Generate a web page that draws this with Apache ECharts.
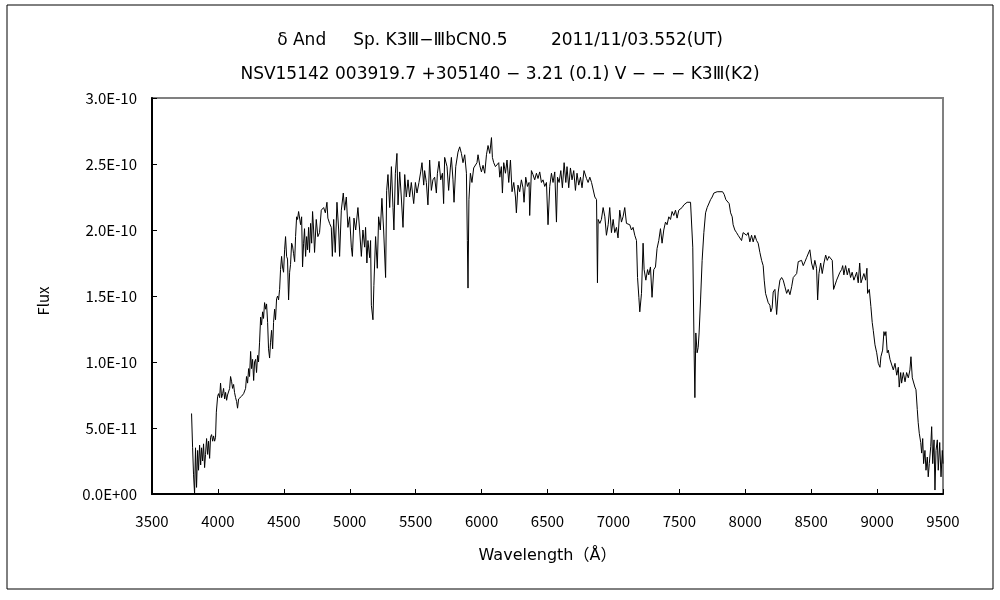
<!DOCTYPE html>
<html>
<head>
<meta charset="utf-8">
<script src="https://cdn.jsdelivr.net/npm/echarts@6/dist/echarts.min.js"></script>
<style>html,body{margin:0;padding:0;background:#fff}#chart{width:1000px;height:600px}</style>
</head>
<body>
<div id="chart"></div>
<script>
// Title texts
const titleLine1 = 'δ And     Sp. K3Ⅲ−ⅢbCN0.5        2011/11/03.552(UT)';
const titleLine2 = 'NSV15142 003919.7 +305140 − 3.21 (0.1) V − − − K3Ⅲ(K2)';
const xAxisName = 'Wavelength（Å）';
const yAxisName = 'Flux';

// Axis ticks
const xTicks = [3500, 4000, 4500, 5000, 5500, 6000, 6500, 7000, 7500, 8000, 8500, 9000, 9500];
const yTickLabels = ['0.0E+00', '5.0E-11', '1.0E-10', '1.5E-10', '2.0E-10', '2.5E-10', '3.0E-10'];

// Flux values are in units of 1e-10, pairs of [wavelength(A), flux]
const FLUX_UNIT = 1e-10;

const blueSegment = [
  [3800,0.61],[3808,0.35],[3815,0.15],[3823,0.00],[3830,0.35],[3838,0.05],[3846,0.33],[3853,0.18],
  [3861,0.37],[3869,0.22],[3876,0.35],[3884,0.25],[3891,0.38],[3899,0.20],[3906,0.30],[3914,0.42],
  [3922,0.30],[3929,0.40],[3937,0.27],[3944,0.43],[3952,0.45],[3960,0.40],[3967,0.44],[3975,0.40],
  [3982,0.43],[3988,0.62],[3998,0.74],[4005,0.76],[4013,0.73],[4020,0.84],[4028,0.73],[4036,0.76],
  [4043,0.80],[4051,0.72],[4058,0.77],[4066,0.71],[4073,0.75],[4081,0.74],[4089,0.80],[4096,0.89],
  [4104,0.85],[4111,0.80],[4119,0.83],[4126,0.77],[4134,0.73],[4142,0.70],[4149,0.65],[4157,0.72],
  [4164,0.73],[4172,0.71],[4179,0.74],[4187,0.73],[4195,0.76],[4202,0.75],[4210,0.80],[4217,0.89],
  [4225,0.84],[4233,0.95],[4240,0.89],[4248,1.08],[4255,0.95],[4263,1.02],[4271,0.86],[4278,1.00],
  [4286,1.02],[4293,0.92],[4301,1.05],[4308,1.00],[4316,1.15],[4324,1.34],[4331,1.28],[4339,1.38],
  [4346,1.33],[4354,1.45],[4362,1.40],[4369,1.44],[4377,1.30],[4384,1.10],[4392,1.03],[4399,1.15],
  [4407,1.24],[4415,1.10],[4422,1.30],[4430,1.40],[4437,1.32],[4445,1.48],[4453,1.50],[4460,1.47],
  [4468,1.55],[4475,1.70],[4483,1.80],[4490,1.72],[4498,1.68],[4506,1.85],[4513,1.95],[4521,1.80],
  [4528,1.78],[4536,1.47],[4544,1.68],[4551,1.74],[4559,1.90],[4566,1.88],[4574,1.82],[4582,1.76],
  [4589,1.95],[4597,2.10],[4604,2.08],[4612,2.14],[4619,2.13],[4627,2.04],[4635,2.10],[4642,1.72],
  [4650,1.90],[4657,2.01],[4665,1.80],[4673,1.95],[4680,1.85],[4688,2.02],[4695,1.83],[4703,2.05],
  [4711,1.90],[4718,2.14],[4726,2.00]
];

const greenSegment = [
  [4733,1.83],[4746,2.08],[4758,1.95],[4771,1.98],[4784,2.15],[4802,2.17],[4815,2.13],[4827,2.21],
  [4834,2.09],[4847,2.05],[4860,2.02],[4868,1.80],[4878,2.08],[4890,1.83],[4903,2.21],[4916,2.00],
  [4923,1.80],[4936,2.15],[4951,2.28],[4961,2.15],[4974,2.25],[4986,2.02],[4999,2.10],[5012,1.87],
  [5020,1.80],[5032,2.09],[5045,2.00],[5062,2.17],[5075,2.00],[5088,1.80],[5100,2.00],[5113,1.87],
  [5120,2.02],[5130,1.75],[5138,1.92],[5151,1.79],[5158,1.92],[5164,1.43],[5176,1.32],[5183,1.58],
  [5196,1.95],[5209,1.71],[5219,2.10],[5232,2.00],[5244,2.24],[5257,2.00],[5272,1.64],[5280,2.30],
  [5290,2.42],[5303,2.17],[5316,2.48],[5328,2.17],[5335,2.00],[5346,2.43],[5358,2.58],[5366,2.19],
  [5379,2.44],[5391,2.25],[5404,2.02],[5417,2.42],[5429,2.25],[5442,2.38],[5454,2.25],[5467,2.36],
  [5485,2.20],[5498,2.36],[5510,2.28],[5525,2.36],[5538,2.44],[5548,2.51],[5561,2.34],[5568,2.45],
  [5581,2.36],[5593,2.19],[5606,2.53],[5619,2.30],[5631,2.38],[5644,2.40],[5657,2.28],[5665,2.43],
  [5677,2.52],[5690,2.38],[5703,2.43],[5712,2.20],[5720,2.55],[5738,2.48],[5750,2.30],[5763,2.47]
];

const yellowSegment = [
  [5771,2.55],[5783,2.38],[5791,2.21],[5804,2.48],[5821,2.59],[5834,2.63],[5847,2.58],[5859,2.51],
  [5872,2.57],[5885,2.43],[5892,1.92],[5897,1.56],[5904,2.23],[5915,2.43],[5927,2.36],[5940,2.47],
  [5955,2.48],[5965,2.51],[5973,2.57],[5986,2.49],[5999,2.44],[6011,2.49],[6024,2.43],[6037,2.57],
  [6049,2.64],[6062,2.58],[6075,2.70],[6082,2.55],[6092,2.51],[6105,2.48],[6117,2.47],[6130,2.51],
  [6138,2.40],[6150,2.48],[6158,2.28],[6168,2.51],[6181,2.43],[6193,2.53],[6206,2.36],[6219,2.53],
  [6231,2.29],[6244,2.36],[6257,2.25],[6264,2.13],[6276,2.34],[6289,2.29],[6302,2.38],[6314,2.32],
  [6322,2.21],[6335,2.40],[6348,2.33],[6360,2.36],[6365,2.11],[6378,2.45],[6390,2.42],[6403,2.38],
  [6416,2.43],[6428,2.39],[6441,2.44],[6454,2.36],[6466,2.38],[6479,2.33],[6492,2.36],[6504,2.04],
  [6517,2.33],[6530,2.43],[6542,2.36],[6555,2.44],[6568,2.06],[6576,2.40],[6588,2.36],[6601,2.45],
  [6613,2.32],[6626,2.51],[6639,2.36],[6648,2.48],[6661,2.32],[6674,2.47],[6686,2.38],[6699,2.45],
  [6712,2.30],[6724,2.43],[6737,2.34],[6750,2.40],[6762,2.32],[6777,2.45]
];

const redSegment = [
  [6796,2.39],[6808,2.36],[6821,2.40],[6834,2.36],[6846,2.35],[6859,2.25],[6872,2.23],[6879,1.60],
  [6884,2.08],[6897,2.05],[6909,2.08],[6922,2.17],[6935,2.10],[6947,1.96],[6960,2.04],[6972,2.17],
  [6985,1.98],[6998,2.08],[7010,1.98],[7023,2.02],[7035,1.94],[7048,2.15],[7061,2.06],[7073,2.10],
  [7086,2.17],[7099,2.05],[7111,2.04],[7124,2.04],[7137,2.00],[7149,2.02],[7162,1.96],[7175,1.92],
  [7183,1.64],[7193,1.49],[7200,1.38],[7213,1.52],[7225,1.90],[7233,1.70],[7246,1.62],[7259,1.70],
  [7268,1.66],[7281,1.72],[7293,1.49],[7306,1.70],[7319,1.72],[7331,1.86],[7344,1.92],[7357,2.01],
  [7369,1.90],[7382,2.00],[7395,2.06],[7407,2.04],[7420,2.10],[7433,2.08],[7445,2.14],[7458,2.11],
  [7471,2.15],[7483,2.09],[7496,2.15],[7509,2.15],[7521,2.17],[7534,2.19],[7547,2.20],[7559,2.21],
  [7572,2.20],[7585,2.21],[7597,2.20],[7602,1.87],[7612,1.09],[7618,0.73],[7625,1.22],[7635,1.07],
  [7643,1.11],[7650,1.22],[7661,1.47],[7673,1.77],[7686,1.98],[7699,2.13],[7711,2.17],[7724,2.17],
  [7737,2.23],[7749,2.25],[7762,2.28],[7775,2.27],[7787,2.29],[7800,2.28]
];

const nirSegment = [
  [7828,2.29],[7840,2.27],[7853,2.23],[7866,2.24],[7878,2.20],[7889,2.13],[7901,2.10],[7908,2.04],
  [7921,2.00],[7934,1.98],[7946,1.96],[7959,1.96],[7972,1.92],[7984,1.98],[7997,1.98],[8010,1.96],
  [8022,1.98],[8035,1.91],[8048,1.96],[8060,1.91],[8073,1.96],[8086,1.92],[8098,1.90],[8111,1.83],
  [8124,1.77],[8136,1.73],[8144,1.62],[8154,1.52],[8166,1.51],[8174,1.45],[8187,1.43],[8194,1.38],
  [8204,1.41],[8212,1.53],[8225,1.55],[8238,1.36],[8250,1.53],[8263,1.62],[8276,1.64],[8288,1.62],
  [8301,1.57],[8314,1.52],[8326,1.55],[8339,1.51],[8352,1.57],[8364,1.64],[8377,1.64],[8390,1.67],
  [8402,1.76],[8415,1.75],[8427,1.77],[8440,1.73],[8453,1.76],[8465,1.79],[8478,1.80],[8490,1.85],
  [8503,1.75],[8516,1.70],[8528,1.77],[8541,1.71],[8549,1.47],[8559,1.67],[8572,1.75],[8584,1.67],
  [8597,1.75],[8610,1.81],[8622,1.77],[8635,1.80],[8648,1.79],[8660,1.77],[8670,1.55],[8682,1.55],
  [8693,1.62],[8705,1.62],[8718,1.68],[8731,1.70],[8739,1.73],[8748,1.66],[8761,1.73],[8774,1.66],
  [8786,1.71],[8799,1.64],[8811,1.68],[8824,1.62]
];

const farSegment = [
  [8832,1.62],[8845,1.68],[8857,1.60],[8868,1.75],[8878,1.60],[8887,1.61],[8900,1.67],[8913,1.62],
  [8923,1.71],[8928,1.52],[8941,1.55],[8953,1.42],[8963,1.30],[8971,1.24],[8984,1.13],[8997,1.07],
  [9009,0.99],[9022,0.96],[9029,1.04],[9042,1.09],[9052,1.23],[9060,1.20],[9067,1.23],[9077,1.07],
  [9085,1.09],[9098,1.02],[9111,1.02],[9123,0.94],[9136,0.99],[9149,0.90],[9161,0.96],[9168,0.81],
  [9179,0.92],[9186,0.84],[9199,0.92],[9212,0.85],[9224,0.92],[9237,0.88],[9249,0.94],[9257,1.04],
  [9267,0.88],[9275,0.89],[9287,0.81],[9295,0.79],[9305,0.64],[9312,0.54],[9320,0.46],[9331,0.39],
  [9338,0.31],[9346,0.42],[9353,0.23],[9363,0.33],[9371,0.18],[9381,0.28],[9388,0.13],[9396,0.23],
  [9407,0.36],[9414,0.51],[9422,0.23],[9432,0.41],[9439,0.03],[9447,0.33],[9457,0.41],[9464,0.18],
  [9475,0.39],[9485,0.13],[9495,0.33],[9500,0.23]
];

const spectrum = [].concat(blueSegment, greenSegment, yellowSegment, redSegment, nirSegment, farSegment)
  .map(p => [p[0], p[1] * FLUX_UNIT]);

const FONT = '"Noto Sans CJK JP", "Noto Sans", sans-serif';
const TITLE_FONT = '"DejaVu Sans", "Noto Sans CJK JP", sans-serif';
const chart = echarts.init(document.getElementById('chart'), null, { renderer: 'canvas' });

chart.setOption({
  animation: false,
  backgroundColor: '#ffffff',
  title: [
    { text: titleLine1, left: 'center', top: 27, textStyle: { fontFamily: TITLE_FONT, fontSize: 17, fontWeight: 'normal', color: '#000' } },
    { text: titleLine2, left: 'center', top: 61, textStyle: { fontFamily: TITLE_FONT, fontSize: 17, fontWeight: 'normal', color: '#000' } }
  ],
  graphic: [
    { type: 'rect', shape: { x: 7, y: 5, width: 986, height: 584 }, style: { fill: 'none', stroke: '#000', lineWidth: 1 }, silent: true, z: 0 }
  ],
  grid: {
    left: 152, right: 57, top: 98, bottom: 106,
    show: true, borderColor: '#808080', borderWidth: 2, backgroundColor: 'transparent'
  },
  xAxis: {
    type: 'value', min: xTicks[0], max: xTicks[xTicks.length - 1], interval: 500,
    name: xAxisName, nameLocation: 'middle', nameGap: 54,
    nameTextStyle: { fontFamily: TITLE_FONT, fontSize: 16, color: '#000' },
    axisLine: { show: true, onZero: false, lineStyle: { color: '#000', width: 2 } },
    axisTick: { show: true, inside: true, length: 5, lineStyle: { color: '#000', width: 1 } },
    axisLabel: { fontFamily: FONT, fontSize: 15, color: '#000', margin: 20, formatter: v => String(v) },
    splitLine: { show: false }
  },
  yAxis: {
    type: 'value', min: 0, max: 3 * FLUX_UNIT, interval: 0.5 * FLUX_UNIT,
    name: yAxisName, nameLocation: 'middle', nameGap: 101, nameRotate: 90,
    nameTextStyle: { fontFamily: FONT, fontSize: 15, color: '#000', padding: [0, 0, 0, -10] },
    axisLine: { show: true, lineStyle: { color: '#000', width: 2 } },
    axisTick: { show: true, inside: true, length: 5, lineStyle: { color: '#000', width: 1 } },
    axisLabel: {
      fontFamily: FONT, fontSize: 15, color: '#000', margin: 15,
      formatter: v => yTickLabels[Math.round(v / (0.5 * FLUX_UNIT))]
    },
    splitLine: { show: false }
  },
  series: [{
    type: 'line', data: spectrum, showSymbol: false, symbol: 'none',
    lineStyle: { color: '#000', width: 1 }, clip: true
  }]
});
</script>
</body>
</html>
